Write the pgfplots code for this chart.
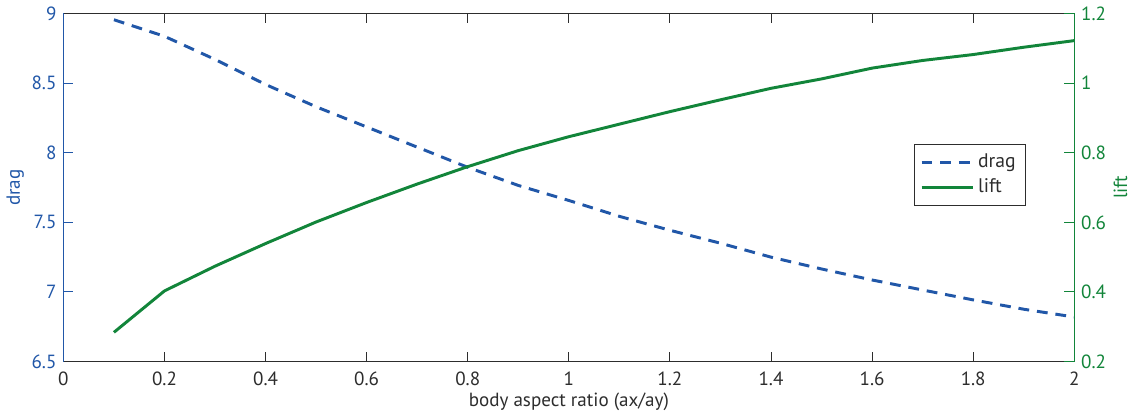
\documentclass[border=0pt]{standalone}
\usepackage{fontspec}
\setmainfont{PT Sans}
\usepackage{pgfplots}
\pgfplotsset{compat=1.18}
\definecolor{dragblue}{RGB}{33,87,168}
\definecolor{liftgreen}{RGB}{18,133,58}
\definecolor{axgray}{RGB}{45,45,45}

\begin{document}
\begin{tikzpicture}[font=\fontsize{9.7}{11}\selectfont]
\pgfplotsset{
  every axis/.append style={
    width=514pt, height=177pt, scale only axis,
    xmin=0, xmax=2,
    /pgf/number format/assume math mode=true,
    major tick length=5pt,
    tick align=inside,
  },
}
% drag (left axis)
\begin{axis}[
    axis y line*=left,
    ymin=6.5, ymax=9,
    ytick={6.5,7,7.5,8,8.5,9},
    xtick={0,0.2,0.4,0.6,0.8,1,1.2,1.4,1.6,1.8,2},
    x axis line style={draw=axgray, line width=0.8pt},
    x tick style={draw=axgray, line width=0.5pt},
    y axis line style={draw=dragblue, line width=0.8pt},
    y tick style={draw=dragblue, line width=0.5pt},
    yticklabel style={text=dragblue},
    xticklabel style={text=axgray, yshift=-1.5pt},
    xlabel={body aspect ratio (ax/ay)},
    xlabel style={text=axgray, yshift=3pt},
    ylabel={drag},
    ylabel style={text=dragblue, yshift=-3pt},
]
\addplot[dragblue, line width=1.5pt, dash pattern=on 5.5pt off 4pt] coordinates {
  (0.1,8.955) (0.2,8.836) (0.3,8.67) (0.4,8.49) (0.5,8.33) (0.6,8.185)
  (0.7,8.04) (0.8,7.895) (0.9,7.765) (1.0,7.657) (1.1,7.543) (1.2,7.443)
  (1.3,7.35) (1.4,7.25) (1.5,7.165) (1.6,7.086) (1.7,7.014) (1.8,6.943)
  (1.9,6.876) (2.0,6.82)
};
\end{axis}
% lift (right axis)
\begin{axis}[
    axis x line=none,
    axis y line*=right,
    ymin=0.2, ymax=1.2,
    ytick={0.2,0.4,0.6,0.8,1,1.2},
    y axis line style={draw=liftgreen, line width=0.8pt},
    y tick style={draw=liftgreen, line width=0.5pt},
    yticklabel style={text=liftgreen},
    ylabel={lift},
    ylabel style={text=liftgreen, yshift=3pt},
    legend style={at={(0.841,0.626)}, anchor=north west, draw=axgray,
      line width=0.6pt, inner xsep=3pt, inner ysep=3pt, row sep=0pt,
      font=\fontsize{10}{12}\selectfont, text=axgray},
    legend cell align=left,
    legend image code/.code={\draw[#1] (0pt,0pt) -- (26pt,0pt);},
]
\addlegendimage{dragblue, line width=1.5pt, dash pattern=on 5.5pt off 4pt}
\addlegendentry{drag}
\addplot[liftgreen, line width=1.5pt] coordinates {
  (0.1,0.284) (0.2,0.403) (0.3,0.474) (0.4,0.539) (0.5,0.601) (0.6,0.657)
  (0.7,0.71) (0.8,0.76) (0.9,0.806) (1.0,0.846) (1.1,0.882) (1.2,0.918)
  (1.3,0.952) (1.4,0.985) (1.5,1.012) (1.6,1.043) (1.7,1.065) (1.8,1.082)
  (1.9,1.103) (2.0,1.122)
};
\addlegendentry{lift}
\end{axis}
\end{tikzpicture}
\end{document}
